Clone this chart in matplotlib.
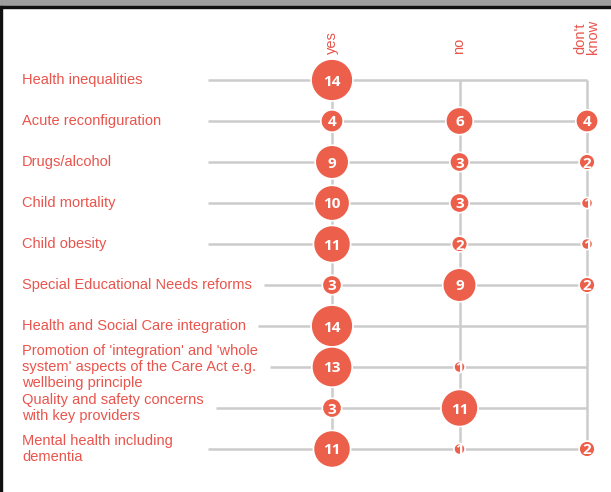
"""
Dot matrix: how many respondents flagged each topic as yes / no / don't know.
"""
import matplotlib
matplotlib.use("Agg")
import matplotlib.pyplot as plt
from matplotlib.patches import Rectangle

topics = [
    "Health inequalities",
    "Acute reconfiguration",
    "Drugs/alcohol",
    "Child mortality",
    "Child obesity",
    "Special Educational Needs reforms",
    "Health and Social Care integration",
    "Promotion of 'integration' and 'whole\nsystem' aspects of the Care Act e.g.\nwellbeing principle",
    "Quality and safety concerns\nwith key providers",
    "Mental health including\ndementia",
]
answers = ["yes", "no", "don't\nknow"]
yes_counts = [14, 4, 9, 10, 11, 3, 14, 13, 3, 11]
no_counts = [0, 6, 3, 3, 2, 9, 0, 1, 11, 1]
dont_know_counts = [0, 4, 2, 1, 1, 2, 0, 0, 0, 2]

CIRCLE = "#EC5F4B"
TEXT_RED = "#E9544C"
GRID = "#CCCCCC"
W, H, DPI = 611, 492, 100

fig = plt.figure(figsize=(W / DPI, H / DPI), dpi=DPI)
ax = fig.add_axes([0, 0, 1, 1])
ax.set_axis_off()

# columns 127.5px apart starting at x=332, rows 41px apart starting at y=80
col0, col_step = 332, 127.5
row0, row_step = 80, 41
ax.set_xlim(-col0 / col_step, (W - col0) / col_step)
ax.set_ylim((H - row0) / row_step, -row0 / row_step)

rows = list(range(len(topics)))
cols = list(range(len(answers)))
counts = [yes_counts, no_counts, dont_know_counts]
last_col = cols[-1]

# row labels
label_x = 22 / W
texts = []
for r, name in zip(rows, topics):
    t = ax.text(label_x, r, name, transform=ax.get_yaxis_transform(),
                ha="left", va="center", fontsize=10.5, color=TEXT_RED,
                family="Liberation Sans", linespacing=1.22)
    texts.append(t)

fig.canvas.draw()
renderer = fig.canvas.get_renderer()
inv = ax.transData.inverted()

# horizontal lines start after the label (or at a common left edge)
default_start = 208
for r, t in zip(rows, texts):
    right_px = t.get_window_extent(renderer).x1
    start_px = max(default_start, right_px + 12)
    x_start = inv.transform((start_px, 0))[0]
    ax.plot([x_start, last_col], [r, r], color=GRID, lw=1.8, zorder=1,
            solid_capstyle="butt")

# vertical lines per answer column
for c in cols:
    ax.plot([c, c], [rows[0], rows[-1]], color=GRID, lw=1.8, zorder=1,
            solid_capstyle="butt")

# bubbles, area proportional to count
px_per_sqrt = 11.2
for c, col_counts in zip(cols, counts):
    xs = [c for v in col_counts if v > 0]
    ys = [r for r, v in zip(rows, col_counts) if v > 0]
    vals = [v for v in col_counts if v > 0]
    sizes = [(px_per_sqrt * 72 / DPI) ** 2 * v for v in vals]
    ax.scatter(xs, ys, s=sizes, color=CIRCLE, edgecolor="white",
               linewidth=1.2, zorder=3)
    for x, y, v in zip(xs, ys, vals):
        ax.text(x, y, str(v), ha="center", va="center_baseline",
                fontsize=11, fontweight="bold", color="white",
                family="Open Sans", zorder=4)

# column headers
for c, name in zip(cols, answers):
    ax.text(c, -0.64, name, rotation=90, ha="center", va="bottom",
            multialignment="left", fontsize=10.5, color=TEXT_RED,
            family="Liberation Sans", linespacing=0.85)

# window frame: grey band and dark edge
fig.patches.append(Rectangle((0, 1 - 6 / H), 1, 6 / H, transform=fig.transFigure,
                             color="#9E9E9E", zorder=0))
fig.patches.append(Rectangle((0, 1 - 8 / H), 1, 2 / H, transform=fig.transFigure,
                             color="#111111", zorder=0))
fig.patches.append(Rectangle((0, 0), 2 / W, 1 - 6 / H, transform=fig.transFigure,
                             color="#111111", zorder=0))

fig.savefig("out.png", dpi=DPI, facecolor="white")
